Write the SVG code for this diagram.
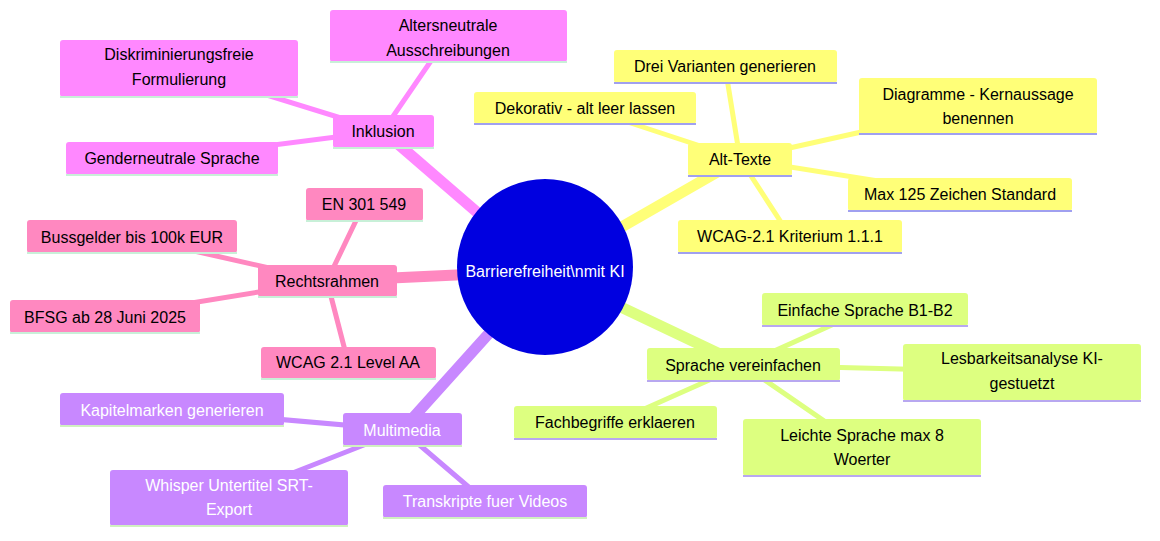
<svg xmlns="http://www.w3.org/2000/svg" width="1160" height="541" viewBox="0 0 1160 541">
<style>
text{font-family:"Liberation Sans",Arial,sans-serif;font-size:16px;text-anchor:middle;dominant-baseline:central;fill:#000}
.w{fill:#fff}
.c line{stroke-linecap:round}
.ink{fill:#ff88ff}.alt{fill:#ffff78}.rec{fill:#ff88c0}.mul{fill:#c888ff}.spr{fill:#ddff80}
</style>
<rect width="1160" height="541" fill="#fff"/>
<g id="connectors" class="c">
<line x1="545" y1="271" x2="383" y2="131" stroke="#ff88ff" stroke-width="11"/>
<line x1="545" y1="271" x2="740" y2="159" stroke="#ffff78" stroke-width="11"/>
<line x1="545" y1="271" x2="327" y2="281" stroke="#ff88c0" stroke-width="11"/>
<line x1="545" y1="271" x2="402" y2="430" stroke="#c888ff" stroke-width="11"/>
<line x1="545" y1="271" x2="743" y2="365" stroke="#ddff80" stroke-width="11"/>
<g stroke="#ff88ff" stroke-width="5"><line x1="383" y1="131" x2="448" y2="36"/><line x1="383" y1="131" x2="179" y2="68"/><line x1="383" y1="131" x2="172" y2="158"/></g>
<g stroke="#ffff78" stroke-width="5"><line x1="740" y1="159" x2="725" y2="66"/><line x1="740" y1="159" x2="585" y2="108"/><line x1="740" y1="159" x2="978" y2="106"/><line x1="740" y1="159" x2="960" y2="194"/><line x1="740" y1="159" x2="790" y2="236"/></g>
<g stroke="#ff88c0" stroke-width="5"><line x1="327" y1="281" x2="364" y2="204"/><line x1="327" y1="281" x2="132" y2="237"/><line x1="327" y1="281" x2="105" y2="317"/><line x1="327" y1="281" x2="348" y2="362"/></g>
<g stroke="#c888ff" stroke-width="5"><line x1="402" y1="430" x2="172" y2="410"/><line x1="402" y1="430" x2="229" y2="498"/><line x1="402" y1="430" x2="485" y2="501"/></g>
<g stroke="#ddff80" stroke-width="5"><line x1="743" y1="365" x2="865" y2="310"/><line x1="743" y1="365" x2="1022" y2="372"/><line x1="743" y1="365" x2="615" y2="422"/><line x1="743" y1="365" x2="862" y2="447"/></g>
</g>
<g id="center"><circle cx="545" cy="267" r="88" fill="#0000e0"/><text class="w" x="545" y="271">Barrierefreiheit\nmit KI</text></g>

<g id="inklusion"><rect class="ink" x="333" y="115" width="101" height="33" rx="3"/><line x1="333" y1="148" x2="434" y2="148" stroke="#c8f0d8" stroke-width="2"/><text x="383" y="131">Inklusion</text></g>
<g id="altersneutrale"><rect class="ink" x="330" y="10" width="237" height="52" rx="3"/><line x1="330" y1="62" x2="567" y2="62" stroke="#c8f0d8" stroke-width="2"/><text x="448" y="25">Altersneutrale</text><text x="448" y="50">Ausschreibungen</text></g>
<g id="diskriminierung"><rect class="ink" x="60" y="40" width="238" height="57" rx="3"/><line x1="60" y1="97" x2="298" y2="97" stroke="#c8f0d8" stroke-width="2"/><text x="179" y="54">Diskriminierungsfreie</text><text x="179" y="79">Formulierung</text></g>
<g id="gender"><rect class="ink" x="66" y="142" width="212" height="33" rx="3"/><line x1="66" y1="175" x2="278" y2="175" stroke="#c8f0d8" stroke-width="2"/><text x="172" y="158">Genderneutrale Sprache</text></g>

<g id="alttexte"><rect class="alt" x="688" y="143" width="104" height="33" rx="3"/><line x1="688" y1="176" x2="792" y2="176" stroke="#a0a0f0" stroke-width="2"/><text x="740" y="159">Alt-Texte</text></g>
<g id="drei"><rect class="alt" x="614" y="50" width="223" height="33" rx="3"/><line x1="614" y1="83" x2="837" y2="83" stroke="#a0a0f0" stroke-width="2"/><text x="725" y="66">Drei Varianten generieren</text></g>
<g id="dekorativ"><rect class="alt" x="474" y="92" width="222" height="32" rx="3"/><line x1="474" y1="124" x2="696" y2="124" stroke="#a0a0f0" stroke-width="2"/><text x="585" y="108">Dekorativ - alt leer lassen</text></g>
<g id="diagramme"><rect class="alt" x="859" y="78" width="238" height="56" rx="3"/><line x1="859" y1="134" x2="1097" y2="134" stroke="#a0a0f0" stroke-width="2"/><text x="978" y="94">Diagramme - Kernaussage</text><text x="978" y="118">benennen</text></g>
<g id="max125"><rect class="alt" x="848" y="178" width="224" height="33" rx="3"/><line x1="848" y1="211" x2="1072" y2="211" stroke="#a0a0f0" stroke-width="2"/><text x="960" y="194">Max 125 Zeichen Standard</text></g>
<g id="wcagk"><rect class="alt" x="678" y="220" width="224" height="33" rx="3"/><line x1="678" y1="253" x2="902" y2="253" stroke="#a0a0f0" stroke-width="2"/><text x="790" y="236">WCAG-2.1 Kriterium 1.1.1</text></g>

<g id="rechtsrahmen"><rect class="rec" x="258" y="265" width="139" height="32" rx="3"/><line x1="258" y1="297" x2="397" y2="297" stroke="#c8f0d8" stroke-width="2"/><text x="327" y="281">Rechtsrahmen</text></g>
<g id="en301"><rect class="rec" x="306" y="188" width="117" height="33" rx="3"/><line x1="306" y1="221" x2="423" y2="221" stroke="#c8f0d8" stroke-width="2"/><text x="364" y="204">EN 301 549</text></g>
<g id="bussgelder"><rect class="rec" x="27" y="220" width="210" height="33" rx="3"/><line x1="27" y1="253" x2="237" y2="253" stroke="#c8f0d8" stroke-width="2"/><text x="132" y="237">Bussgelder bis 100k EUR</text></g>
<g id="bfsg"><rect class="rec" x="10" y="300" width="190" height="33" rx="3"/><line x1="10" y1="333" x2="200" y2="333" stroke="#c8f0d8" stroke-width="2"/><text x="105" y="317">BFSG ab 28 Juni 2025</text></g>
<g id="wcagaa"><rect class="rec" x="261" y="347" width="175" height="32" rx="3"/><line x1="261" y1="379" x2="436" y2="379" stroke="#c8f0d8" stroke-width="2"/><text x="348" y="362">WCAG 2.1 Level AA</text></g>

<g id="multimedia"><rect class="mul" x="343" y="413" width="119" height="33" rx="3"/><line x1="343" y1="446" x2="462" y2="446" stroke="#d0f0c0" stroke-width="2"/><text class="w" x="402" y="430">Multimedia</text></g>
<g id="kapitel"><rect class="mul" x="60" y="393" width="224" height="33" rx="3"/><line x1="60" y1="426" x2="284" y2="426" stroke="#d0f0c0" stroke-width="2"/><text class="w" x="172" y="410">Kapitelmarken generieren</text></g>
<g id="whisper"><rect class="mul" x="110" y="470" width="238" height="56" rx="3"/><line x1="110" y1="526" x2="348" y2="526" stroke="#d0f0c0" stroke-width="2"/><text class="w" x="229" y="485">Whisper Untertitel SRT-</text><text class="w" x="229" y="509">Export</text></g>
<g id="transkripte"><rect class="mul" x="383" y="485" width="204" height="33" rx="3"/><line x1="383" y1="518" x2="587" y2="518" stroke="#d0f0c0" stroke-width="2"/><text class="w" x="485" y="501">Transkripte fuer Videos</text></g>

<g id="sprache"><rect class="spr" x="647" y="348" width="193" height="33" rx="3"/><line x1="647" y1="381" x2="840" y2="381" stroke="#b8a8f0" stroke-width="2"/><text x="743" y="365">Sprache vereinfachen</text></g>
<g id="einfach"><rect class="spr" x="762" y="293" width="206" height="33" rx="3"/><line x1="762" y1="326" x2="968" y2="326" stroke="#b8a8f0" stroke-width="2"/><text x="865" y="310">Einfache Sprache B1-B2</text></g>
<g id="lesbarkeit"><rect class="spr" x="903" y="344" width="238" height="57" rx="3"/><line x1="903" y1="401" x2="1141" y2="401" stroke="#b8a8f0" stroke-width="2"/><text x="1022" y="358">Lesbarkeitsanalyse KI-</text><text x="1022" y="383">gestuetzt</text></g>
<g id="fachbegriffe"><rect class="spr" x="514" y="406" width="203" height="33" rx="3"/><line x1="514" y1="439" x2="717" y2="439" stroke="#b8a8f0" stroke-width="2"/><text x="615" y="422">Fachbegriffe erklaeren</text></g>
<g id="leicht"><rect class="spr" x="743" y="419" width="238" height="57" rx="3"/><line x1="743" y1="476" x2="981" y2="476" stroke="#b8a8f0" stroke-width="2"/><text x="862" y="435">Leichte Sprache max 8</text><text x="862" y="459">Woerter</text></g>
</svg>
